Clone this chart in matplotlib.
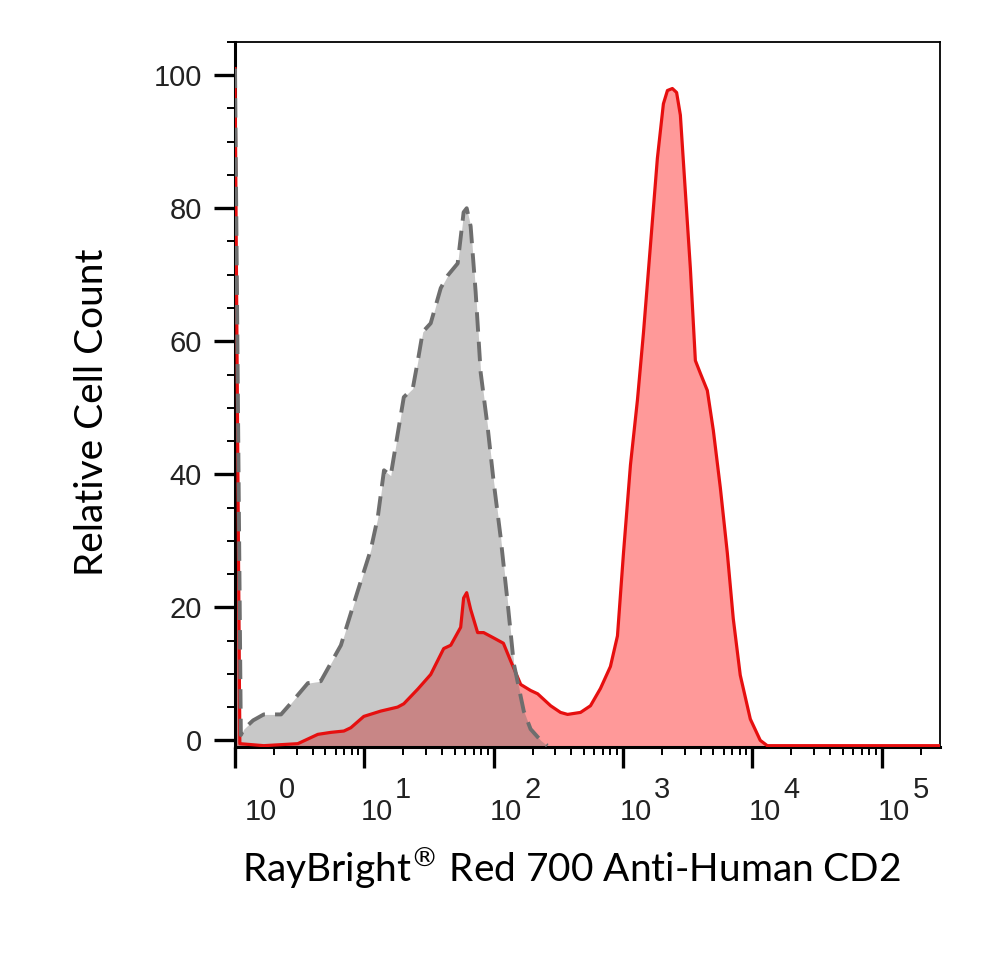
import matplotlib
matplotlib.use("Agg")
import matplotlib.pyplot as plt
from matplotlib.ticker import FixedLocator, NullFormatter
import numpy as np

# isotype control (grey, dashed)
ctrl_x = [1.0, 1.11, 1.17, 1.38, 1.67, 2.27, 2.71, 3.66, 4.61, 5.51, 6.59, 8.91,
          11.2, 12.7, 14.2, 16.0, 20.2, 23.7, 25.9, 28.3, 32.6, 39.0, 44.2, 52.7,
          58.6, 61.9, 66.4, 72.6, 79.4, 89.9, 100, 113, 128, 143, 171, 193, 231,
          260]
ctrl_y = [101, 0.8, 1.7, 3.0, 3.9, 3.9, 5.6, 8.6, 8.9, 11.6, 14.3, 22.5,
          28.6, 33.5, 40.6, 39.8, 51.6, 52.9, 57.0, 61.4, 62.7, 68.0, 69.9, 71.7,
          79.4, 80.0, 77.3, 67.4, 55.3, 47.1, 38.9, 30.7, 20.9, 11.6, 4.4, 1.7, 0.0,
          -0.8]

# CD2 stained (red)
cd2_x = [1.0, 1.09, 1.67, 3.06, 4.37, 5.51, 6.95, 7.87, 9.91, 13.4, 18.1, 20.2,
         25.9, 32.6, 41.1, 46.6, 55.6, 58.6, 61.9, 66.4, 75.2, 83.7, 100, 119,
         135, 162, 193, 219, 276, 329, 373, 470, 561, 670, 800, 907, 1010, 1143,
         1295, 1440, 1630, 1846, 2055, 2208, 2411, 2600, 2780, 2900, 3321, 3631,
         3966, 4493, 5000, 5662, 6412, 7130, 8075, 9660, 11530, 13060, 283000]
cd2_y = [101, -0.5, -0.8, -0.5, 0.9, 1.2, 1.4, 1.9, 3.6, 4.4, 5.0, 5.5,
         7.7, 9.9, 13.8, 14.3, 17.0, 21.4, 22.2, 19.7, 16.2, 16.2, 15.4, 14.6,
         12.0, 8.4, 7.5, 7.0, 5.2, 4.2, 3.9, 4.2, 5.2, 7.8, 11.1, 15.7, 28.2, 41.4,
         51.2, 61.2, 74.3, 87.5, 95.7, 97.7, 98.0, 97.4, 94.0, 88.5, 71.0, 57.1,
         55.2, 52.6, 46.6, 38.0, 28.2, 18.3, 9.8, 3.2, 0.0, -0.8, -0.8]

decades = [1, 10, 100, 1000, 10000, 100000]
exponents = ["0", "1", "2", "3", "4", "5"]
y_major = [0, 20, 40, 60, 80, 100]

fig = plt.figure(figsize=(10, 9.69), dpi=100)
ax = fig.add_axes([0.235, 0.2291, 0.705, 0.7276])

ax.fill_between(cd2_x, -1, cd2_y, color="#ff9999", lw=0, zorder=1)
ax.fill_between(ctrl_x, -1, ctrl_y, color="#676767", alpha=0.36, lw=0, zorder=2)
ax.plot(cd2_x, cd2_y, color="#e60f0f", lw=2.3, zorder=3)
ax.plot(ctrl_x, ctrl_y, color="#6e6e6e", lw=2.8, dashes=(5, 2.6), zorder=4)

ax.set_xscale("log")
ax.set_xlim(1, 283000)
ax.set_ylim(-1, 105)

ax.set_yticks(y_major)
ax.yaxis.set_minor_locator(FixedLocator(np.arange(5, 106, 5)))
minors = [d * k for d in decades for k in range(2, 10)]
ax.xaxis.set_major_locator(FixedLocator(decades))
ax.xaxis.set_minor_locator(FixedLocator(minors))
ax.xaxis.set_major_formatter(NullFormatter())
ax.xaxis.set_minor_formatter(NullFormatter())

ax.tick_params(axis="both", which="major", length=15, width=2.4, color="black",
               labelsize=21, labelcolor="#222222")
ax.tick_params(axis="both", which="minor", length=6, width=1.4, color="black")
ax.tick_params(axis="y", which="major", pad=9)
for lab in ax.get_yticklabels():
    lab.set_family("Liberation Sans")

for side in ["left", "bottom"]:
    ax.spines[side].set_linewidth(2.2)
for side in ["top", "right"]:
    ax.spines[side].set_linewidth(1.3)

# decade labels: base and exponent at the same size, shifted right
for i, (d, e) in enumerate(zip(decades, exponents)):
    dx = 18.5 if i == 0 else 9
    ax.annotate("10", xy=(d, 0), xycoords=("data", "axes fraction"),
                xytext=(dx, -47), textcoords="offset points",
                ha="center", va="center", fontsize=21, color="#222222",
                family="Liberation Sans", annotation_clip=False)
    ax.annotate(e, xy=(d, 0), xycoords=("data", "axes fraction"),
                xytext=(dx + 19, -31), textcoords="offset points",
                ha="center", va="center", fontsize=21, color="#222222",
                family="Liberation Sans", annotation_clip=False)

fig.text(0.5715, 0.0898, "RayBright$^{\u00ae}$ Red 700 Anti-Human CD2",
         ha="center", va="baseline", fontsize=28, family="Lato")
fig.text(0.092, 0.575, "Relative Cell Count", rotation=90,
         ha="center", va="center", fontsize=28, family="Lato")

fig.savefig("out.png", dpi=100)
